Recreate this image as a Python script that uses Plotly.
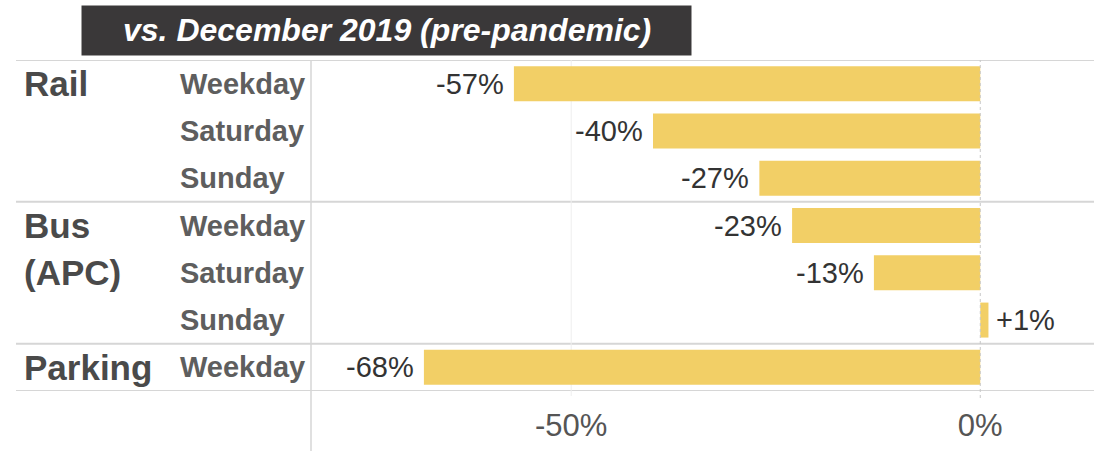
import plotly.graph_objects as go

# ── Data ──────────────────────────────────────────────────────────────────────
groups = ["Rail", "Rail", "Rail", "Bus", "Bus", "Bus", "Parking"]
days = ["Weekday", "Saturday", "Sunday", "Weekday", "Saturday", "Sunday", "Weekday"]
change_pct = [-57, -40, -27, -23, -13, 1, -68]
group_labels = {"Rail": ["Rail"], "Bus": ["Bus", "(APC)"], "Parking": ["Parking"]}
tick_vals = [-50, 0]
title_text = "vs. December 2019 (pre-pandemic)"

# ── Layout constants (pixels) ─────────────────────────────────────────────────
W, H = 1094, 451
ML, MR, MT, MB = 311, 0, 60, 60
PW, PH = W - ML - MR, H - MT - MB


def px_x(px):
    return (px - ML) / PW


def px_y(py):
    return (H - MB - py) / PH


BAR_COLOR = "#F2CF66"
LINE_COLOR = "#d6d6d6"
FONT = "Liberation Sans, Arial, sans-serif"

rows = list(range(len(change_pct)))

fig = go.Figure()
fig.add_trace(go.Bar(
    x=change_pct, y=rows, orientation="h",
    marker=dict(color=BAR_COLOR, line=dict(width=0)),
    width=0.74, hoverinfo="skip",
))

annotations = []
# value labels next to the bars
for r, v in zip(rows, change_pct):
    annotations.append(dict(
        x=v, y=r, xref="x", yref="y", text=f"{v:+d}%", showarrow=False,
        xanchor="right" if v < 0 else "left", xshift=-8 if v < 0 else 6,
        font=dict(family=FONT, size=29, color="#333333"),
    ))

# day labels
for r, d in zip(rows, days):
    annotations.append(dict(
        x=px_x(178), y=r, xref="paper", yref="y", text=d, showarrow=False,
        xanchor="left", font=dict(family=FONT, size=29, color="#5e5e5e", weight="bold"),
    ))

# group labels, one line per row starting at the group's first row
seen = set()
for r, g in zip(rows, groups):
    if g in seen:
        continue
    seen.add(g)
    for i, line in enumerate(group_labels[g]):
        annotations.append(dict(
            x=px_x(22), y=r + i, xref="paper", yref="y", text=line, showarrow=False,
            xanchor="left", font=dict(family=FONT, size=35, color="#4a4a4a", weight="bold"),
        ))

# title in dark box
annotations.append(dict(
    x=px_x(386.5), y=px_y(30.5), xref="paper", yref="paper", text=title_text,
    showarrow=False, xanchor="center", yanchor="middle",
    font=dict(family=FONT, size=32, color="white", weight="bold", style="italic"),
))

shapes = []
# group separators + top/bottom rules, running to the right edge
boundaries = [-0.5] + [i + 0.5 for i in range(len(groups) - 1) if groups[i] != groups[i + 1]] + [len(rows) - 0.5]
for b in boundaries:
    shapes.append(dict(type="line", xref="paper", yref="y", x0=px_x(16), x1=1, y0=b, y1=b,
                       line=dict(color=LINE_COLOR, width=2), layer="below"))
# left vertical rule
shapes.append(dict(type="line", xref="paper", yref="paper", x0=0, x1=0, y0=px_y(H), y1=1,
                   line=dict(color=LINE_COLOR, width=1.5), layer="below"))
# -50% gridline
shapes.append(dict(type="line", xref="x", yref="paper", x0=-50, x1=-50, y0=px_y(396), y1=1,
                   line=dict(color="#eeeeee", width=1), layer="below"))
# zero line, dotted
shapes.append(dict(type="line", xref="x", yref="paper", x0=0, x1=0, y0=px_y(398), y1=1,
                   line=dict(color="#c8c8c8", width=1, dash="dot"), layer="above"))
# title box
shapes.append(dict(type="rect", xref="paper", yref="paper",
                   x0=px_x(80), x1=px_x(693), y0=px_y(57), y1=px_y(4),
                   fillcolor="#3a3839", line=dict(color="white", width=3), layer="above"))

fig.update_layout(
    width=W, height=H,
    margin=dict(l=ML, r=MR, t=MT, b=MB),
    paper_bgcolor="white", plot_bgcolor="white",
    showlegend=False,
    annotations=annotations, shapes=shapes,
    xaxis=dict(
        range=[-81.8, 13.9], tickvals=tick_vals,
        ticktext=[f"{t}%" for t in tick_vals],
        showgrid=False, zeroline=False, showline=False, ticks="",
        ticklabelstandoff=13,
        tickfont=dict(family=FONT, size=31, color="#555555"),
        fixedrange=True,
    ),
    yaxis=dict(
        range=[len(rows) - 0.5, -0.5], visible=False, fixedrange=True,
    ),
)

# drop the default 8px body margin so the figure fills the window exactly
fig.write_html(
    "out.html",
    config={"displayModeBar": False},
    post_script="document.body.style.margin = '0';",
)
